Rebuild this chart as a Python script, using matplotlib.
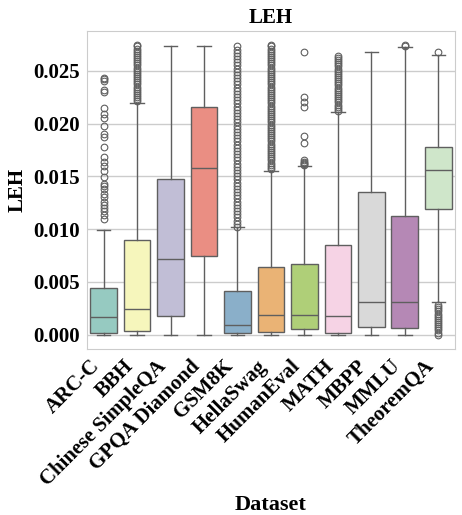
import colorsys

import matplotlib
matplotlib.use("Agg")
import matplotlib.pyplot as plt
from matplotlib.colors import to_rgb

# Datasets shown on the x axis
datasets = ["ARC-C", "BBH", "Chinese SimpleQA", "GPQA Diamond", "GSM8K",
            "HellaSwag", "HumanEval", "MATH", "MBPP", "MMLU", "TheoremQA"]

# Box statistics
q1 = [0.00016, 0.00032, 0.00180, 0.00742, 0.00013, 0.00022, 0.00054, 0.00016,
      0.00076, 0.00060, 0.01187]
medians = [0.00164, 0.00243, 0.00717, 0.01575, 0.00095, 0.00189, 0.00189,
           0.00180, 0.00313, 0.00306, 0.01560]
q3 = [0.00442, 0.00900, 0.01474, 0.02156, 0.00417, 0.00638, 0.00669, 0.00849,
      0.01348, 0.01121, 0.01780]
whisker_low = [0.0, 0.0, 0.0, 0.0, 0.0, 0.0, 0.0, 0.0, 0.0, 0.0, 0.00306]
whisker_high = [0.00991, 0.02190, 0.02730, 0.02730, 0.01016, 0.01553, 0.01594,
                0.02105, 0.02674, 0.02727, 0.02652]

# Outliers per dataset
fliers_arc = [0.0110, 0.0113, 0.0117, 0.0120, 0.0123, 0.0126, 0.0130, 0.0133,
              0.0138, 0.0141, 0.0143, 0.0149, 0.0155, 0.0160, 0.0164, 0.0168,
              0.0178, 0.0187, 0.0190, 0.0198, 0.0205, 0.0209, 0.0215, 0.0230,
              0.0232, 0.0240, 0.0242, 0.0243]
fliers_bbh = [0.0221, 0.0223, 0.0225, 0.0227, 0.0229, 0.0231, 0.0233, 0.0235,
              0.0237, 0.0239, 0.0241, 0.0243, 0.0245, 0.0247, 0.0249, 0.0251,
              0.0253, 0.0255, 0.0257, 0.0259, 0.0261, 0.0263, 0.0265, 0.0267,
              0.0269, 0.0271, 0.0273, 0.0274]
fliers_gsm = [0.0102, 0.0105, 0.0108, 0.0111, 0.0114, 0.0117, 0.0120, 0.0123,
              0.0126, 0.0129, 0.0132, 0.0135, 0.0138, 0.0141, 0.0144, 0.0147,
              0.0150, 0.0153, 0.0156, 0.0159, 0.0162, 0.0165, 0.0168, 0.0171,
              0.0174, 0.0177, 0.0180, 0.0183, 0.0186, 0.0189, 0.0192, 0.0195,
              0.0198, 0.0201, 0.0204, 0.0207, 0.0210, 0.0213, 0.0216, 0.0219,
              0.0222, 0.0225, 0.0228, 0.0231, 0.0234, 0.0237, 0.0240, 0.0243,
              0.0246, 0.0249, 0.0252, 0.0255, 0.0258, 0.0261, 0.0264, 0.0267,
              0.0270, 0.0273]
fliers_hella = [0.0157, 0.0159, 0.0161, 0.0163, 0.0165, 0.0167, 0.0169, 0.0171,
                0.0173, 0.0175, 0.0177, 0.0179, 0.0181, 0.0183, 0.0185, 0.0187,
                0.0189, 0.0191, 0.0193, 0.0195, 0.0197, 0.0199, 0.0201, 0.0203,
                0.0205, 0.0207, 0.0209, 0.0211, 0.0213, 0.0215, 0.0217, 0.0219,
                0.0221, 0.0223, 0.0225, 0.0227, 0.0229, 0.0231, 0.0233, 0.0235,
                0.0237, 0.0239, 0.0241, 0.0243, 0.0245, 0.0247, 0.0249, 0.0251,
                0.0253, 0.0255, 0.0257, 0.0259, 0.0261, 0.0263, 0.0265, 0.0267,
                0.0269, 0.0271, 0.0273, 0.0274]
fliers_human = [0.0161, 0.0162, 0.0163, 0.0164, 0.0165, 0.0182, 0.0188,
                0.0216, 0.0220, 0.0225, 0.0268]
fliers_math = [0.0212, 0.0214, 0.0216, 0.0218, 0.0220, 0.0222, 0.0224, 0.0226,
               0.0228, 0.0230, 0.0232, 0.0234, 0.0236, 0.0238, 0.0240, 0.0242,
               0.0244, 0.0246, 0.0248, 0.0250, 0.0252, 0.0254, 0.0256, 0.0258,
               0.0260, 0.0262, 0.0264]
fliers_mmlu = [0.02735, 0.0274]
fliers_theorem = [0.0000, 0.0002, 0.0004, 0.0006, 0.0008, 0.0010, 0.0012,
                  0.0014, 0.0016, 0.0018, 0.0020, 0.0022, 0.0024, 0.0026,
                  0.0028, 0.0268]
fliers = [fliers_arc, fliers_bbh, [], [], fliers_gsm, fliers_hella,
          fliers_human, fliers_math, [], fliers_mmlu, fliers_theorem]

# Set3 palette
palette = ["#8dd3c7", "#ffffb3", "#bebada", "#fb8072", "#80b1d3", "#fdb462",
           "#b3de69", "#fccde5", "#d9d9d9", "#bc80bd", "#ccebc5"]

y_ticks = [0.000, 0.005, 0.010, 0.015, 0.020, 0.025]


def desaturate(color, prop=0.75):
    """Reduce the saturation of a colour like seaborn does for box faces."""
    h, l, s = colorsys.rgb_to_hls(*to_rgb(color))
    return colorsys.hls_to_rgb(h, l, s * prop)


def build_stats():
    """Turn the named lists into the dicts ax.bxp expects."""
    stats = []
    for i, name in enumerate(datasets):
        stats.append({
            "label": name,
            "q1": q1[i],
            "med": medians[i],
            "q3": q3[i],
            "whislo": whisker_low[i],
            "whishi": whisker_high[i],
            "fliers": fliers[i],
        })
    return stats


def plot_boxes(out_file="out.png"):
    plt.rcParams["font.family"] = ["Liberation Serif", "DejaVu Serif"]
    plt.rcParams["font.weight"] = "bold"
    plt.rcParams["axes.titleweight"] = "bold"
    plt.rcParams["axes.labelweight"] = "bold"

    fig, ax = plt.subplots(figsize=(4.62, 5.15), dpi=100)
    fig.subplots_adjust(left=0.188, right=0.985, top=0.940, bottom=0.322)

    gray = "#5f5f5f"
    line_kw = dict(color=gray, linewidth=1.0)
    parts = ax.bxp(
        build_stats(),
        positions=range(len(datasets)),
        widths=0.8,
        patch_artist=True,
        boxprops=dict(edgecolor=gray, linewidth=1.0),
        medianprops=line_kw,
        whiskerprops=line_kw,
        capprops=line_kw,
        flierprops=dict(marker="o", markerfacecolor="none",
                        markeredgecolor=gray, markersize=4.8,
                        markeredgewidth=0.8),
    )
    for patch, color in zip(parts["boxes"], palette):
        patch.set_facecolor(desaturate(color))

    # Whitegrid-like look
    ax.set_xlim(-0.5, len(datasets) - 0.5)
    ax.set_ylim(-0.00137, 0.02877)
    ax.set_yticks(y_ticks)
    ax.set_yticklabels([f"{t:.3f}" for t in y_ticks])
    ax.set_xticks(range(len(datasets)))
    ax.set_xticklabels(datasets, rotation=45, ha="right")
    ax.tick_params(axis="both", length=0, labelsize=15, pad=5)
    ax.yaxis.grid(True, color="#cccccc", linewidth=1.0)
    ax.xaxis.grid(False)
    ax.set_axisbelow(True)
    for spine in ax.spines.values():
        spine.set_color("#cccccc")

    ax.set_title("LEH", fontsize=15)
    ax.set_ylabel("LEH", fontsize=15)
    ax.set_xlabel("Dataset", fontsize=16)

    fig.savefig(out_file, dpi=100)


if __name__ == "__main__":
    plot_boxes()
